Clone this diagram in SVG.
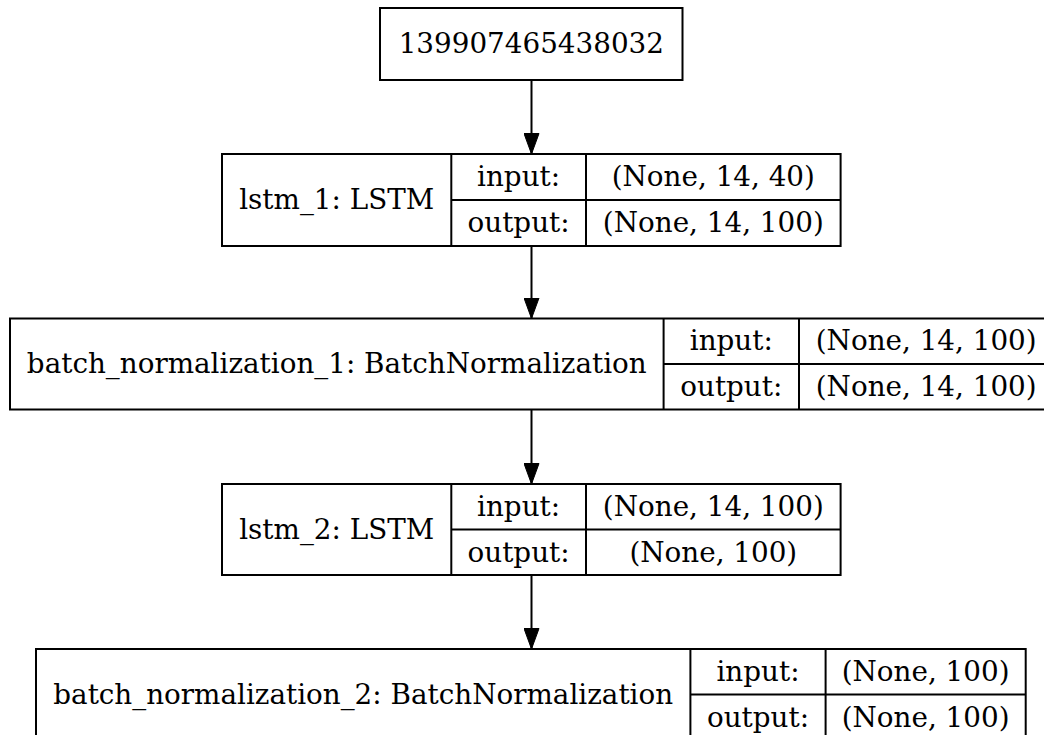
<svg xmlns="http://www.w3.org/2000/svg" width="1044" height="735" viewBox="0 0 1044 735">
  <style>
    .box { fill: #ffffff; stroke: #000000; stroke-width: 2; }
    .sep { stroke: #000000; stroke-width: 2; fill: none; }
    .edge { stroke: #000000; stroke-width: 2; fill: none; }
    text { font-family: "DejaVu Serif", "Liberation Serif", serif; font-size: 27.8px; fill: #000000; text-anchor: middle; }
  </style>
  <defs>
    <!-- filled triangular arrowhead, tip on the line end -->
    <marker id="arrow" markerUnits="userSpaceOnUse" markerWidth="21" markerHeight="16" refX="21" refY="8" viewBox="0 0 21 16" orient="auto">
      <path d="M0.5,0.5 L21,8 L0.5,15.5 Z" fill="#000000" stroke="#000000" stroke-width="1"/>
    </marker>
  </defs>
  <rect x="0" y="0" width="1044" height="735" fill="#ffffff"/>

  <!-- connectors -->
  <g id="edges">
    <line class="edge" x1="531.5" y1="80" x2="531.5" y2="154" marker-end="url(#arrow)"/>
    <line class="edge" x1="531.5" y1="246" x2="531.5" y2="318.5" marker-end="url(#arrow)"/>
    <line class="edge" x1="531.5" y1="409.5" x2="531.5" y2="484" marker-end="url(#arrow)"/>
    <line class="edge" x1="531.5" y1="575" x2="531.5" y2="649" marker-end="url(#arrow)"/>
  </g>

  <!-- input node -->
  <g id="node_input">
    <rect class="box" x="380" y="8" width="302.5" height="72"/>
    <text x="531.3" y="52.5">139907465438032</text>
  </g>

  <!-- lstm_1 -->
  <g id="node_lstm_1">
    <rect class="box" x="222" y="154" width="618.6" height="92"/>
    <line class="sep" x1="451.3" y1="154" x2="451.3" y2="246"/>
    <line class="sep" x1="586" y1="154" x2="586" y2="246"/>
    <line class="sep" x1="451.3" y1="200" x2="840.6" y2="200"/>
    <text x="336.7" y="209">lstm_1: LSTM</text>
    <text x="518.6" y="186">input:</text>
    <text x="518.6" y="232">output:</text>
    <text x="713.3" y="186">(None, 14, 40)</text>
    <text x="713.3" y="232">(None, 14, 100)</text>
  </g>

  <!-- batch_normalization_1 -->
  <g id="node_batch_normalization_1">
    <rect class="box" x="10" y="318.5" width="1043.5" height="91"/>
    <line class="sep" x1="663.6" y1="318.5" x2="663.6" y2="409.5"/>
    <line class="sep" x1="799" y1="318.5" x2="799" y2="409.5"/>
    <line class="sep" x1="663.6" y1="364" x2="1053.5" y2="364"/>
    <text x="336.8" y="373">batch_normalization_1: BatchNormalization</text>
    <text x="731.3" y="350">input:</text>
    <text x="731.3" y="396">output:</text>
    <text x="926.2" y="350">(None, 14, 100)</text>
    <text x="926.2" y="396">(None, 14, 100)</text>
  </g>

  <!-- lstm_2 -->
  <g id="node_lstm_2">
    <rect class="box" x="222" y="484" width="618.6" height="91"/>
    <line class="sep" x1="451.3" y1="484" x2="451.3" y2="575"/>
    <line class="sep" x1="586" y1="484" x2="586" y2="575"/>
    <line class="sep" x1="451.3" y1="529.5" x2="840.6" y2="529.5"/>
    <text x="336.7" y="538.5">lstm_2: LSTM</text>
    <text x="518.6" y="515.5">input:</text>
    <text x="518.6" y="561.5">output:</text>
    <text x="713.3" y="515.5">(None, 14, 100)</text>
    <text x="713.3" y="561.5">(None, 100)</text>
  </g>

  <!-- batch_normalization_2 -->
  <g id="node_batch_normalization_2">
    <rect class="box" x="36" y="649" width="989.7" height="91"/>
    <line class="sep" x1="690.4" y1="649" x2="690.4" y2="740"/>
    <line class="sep" x1="825.6" y1="649" x2="825.6" y2="740"/>
    <line class="sep" x1="690.4" y1="694.5" x2="1025.7" y2="694.5"/>
    <text x="363.2" y="703.5">batch_normalization_2: BatchNormalization</text>
    <text x="758" y="680.5">input:</text>
    <text x="758" y="726.5">output:</text>
    <text x="925.6" y="680.5">(None, 100)</text>
    <text x="925.6" y="726.5">(None, 100)</text>
  </g>
</svg>
